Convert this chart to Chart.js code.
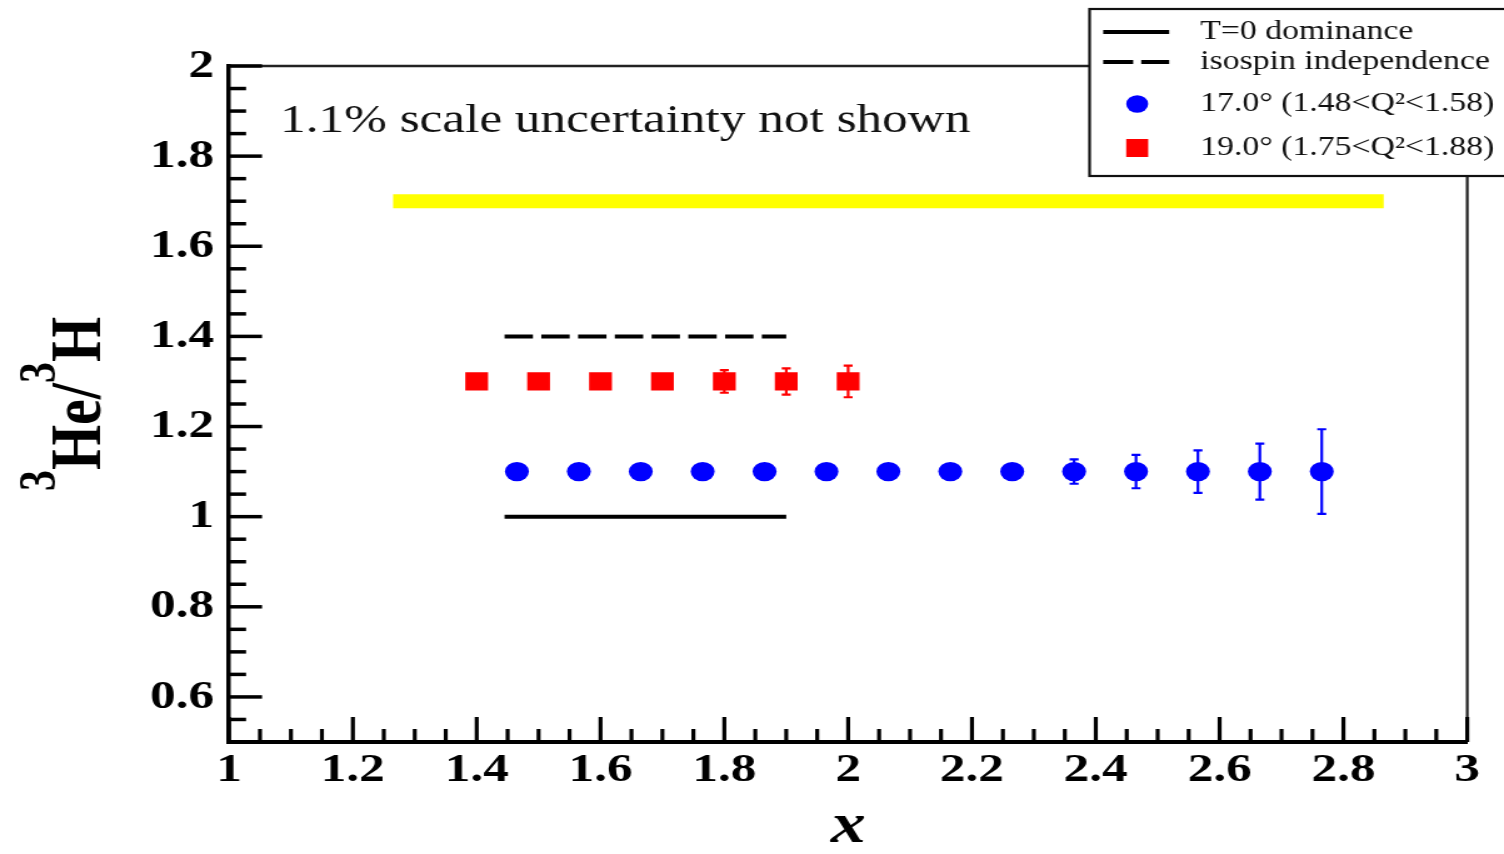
<!DOCTYPE html>
<html><head><meta charset="utf-8">
<script src="https://cdn.jsdelivr.net/npm/chart.js@4.4.1/dist/chart.umd.min.js"></script>
<style>
html,body{margin:0;padding:0;background:#fff;overflow:hidden;}
#wrap{width:1203px;height:854px;transform:scaleX(1.2502);transform-origin:0 0;}
canvas{display:block;}
</style></head><body>
<div id="wrap"><canvas id="c" width="1203" height="854"></canvas></div>
<script>
// ---- data ----
const blueX   = [1.465, 1.565, 1.665, 1.765, 1.865, 1.965, 2.065, 2.165, 2.265, 2.365, 2.465, 2.565, 2.665, 2.765];
const blueY   = [1.1, 1.1, 1.1, 1.1, 1.1, 1.1, 1.1, 1.1, 1.1, 1.1, 1.1, 1.1, 1.1, 1.1];
const blueErr = [0.004, 0.004, 0.004, 0.005, 0.005, 0.006, 0.007, 0.009, 0.014, 0.027, 0.037, 0.047, 0.062, 0.094];
const redX    = [1.4, 1.5, 1.6, 1.7, 1.8, 1.9, 2.0];
const redY    = [1.3, 1.3, 1.3, 1.3, 1.3, 1.3, 1.3];
const redErr  = [0.006, 0.008, 0.010, 0.014, 0.025, 0.029, 0.035];
const t0X     = [1.445, 1.9];
const t0Y     = [1.0, 1.0];
const isoX    = [1.445, 1.9];
const isoY    = [1.4, 1.4];
const bandX   = [1.265, 2.865];
const bandY   = [1.7, 1.7];
const xRange  = [1, 3];
const yRange  = [0.5, 2];
const majorStep = 0.2;
const minorStep = 0.05;
const labels = {
  t0: 'T=0 dominance',
  iso: 'isospin independence',
  blue: '17.0\u00B0 (1.48<Q\u00B2<1.58)',
  red: '19.0\u00B0 (1.75<Q\u00B2<1.88)',
  note: '1.1% scale uncertainty not shown',
  xTitle: 'x'
};
const yTitleParts = [['3', true], ['He/', false], ['3', true], ['H', false]];

const SERIF = "'Liberation Serif','Times New Roman',serif";
function pts(xs, ys){ return xs.map((x,i)=>({x:x, y:ys[i]})); }
function fmtTick(v){ return String(Number(Number(v).toFixed(2))); }

const errorBars = {
  id:'errorBars',
  afterDatasetsDraw(chart){
    const ctx = chart.ctx, xs = chart.scales.x, ys = chart.scales.y;
    chart.data.datasets.forEach(ds=>{
      if(!ds.errors) return;
      ctx.save(); ctx.strokeStyle = ds.backgroundColor; ctx.lineWidth = 2.2;
      ds.data.forEach((p,i)=>{
        const e = ds.errors[i]; const px = xs.getPixelForValue(p.x);
        const y1 = ys.getPixelForValue(p.y+e), y2 = ys.getPixelForValue(p.y-e);
        ctx.beginPath();
        ctx.moveTo(px,y1); ctx.lineTo(px,y2);
        ctx.moveTo(px-3.6,y1); ctx.lineTo(px+3.6,y1);
        ctx.moveTo(px-3.6,y2); ctx.lineTo(px+3.6,y2);
        ctx.stroke();
      });
      ctx.restore();
    });
  }
};

const decor = {
  id:'decor',
  afterDraw(chart){
    const ctx = chart.ctx, a = chart.chartArea, xs = chart.scales.x, ys = chart.scales.y;
    ctx.save();
    // frame (top & right)
    ctx.strokeStyle = '#222'; ctx.lineWidth = 2.6;
    ctx.beginPath(); ctx.moveTo(a.left, a.top); ctx.lineTo(a.right, a.top); ctx.stroke();
    ctx.lineWidth = 2.2;
    ctx.beginPath(); ctx.moveTo(a.right, a.top); ctx.lineTo(a.right, a.bottom); ctx.stroke();
    // inward ticks
    ctx.strokeStyle = '#000';
    ctx.lineWidth = 3.2;
    const nx = Math.round((xRange[1]-xRange[0])/minorStep);
    for(let k=0;k<=nx;k++){
      const v = xRange[0] + k*minorStep;
      const r = v/majorStep; const major = Math.abs(r-Math.round(r))<1e-6;
      const px = xs.getPixelForValue(v);
      ctx.beginPath(); ctx.moveTo(px, a.bottom); ctx.lineTo(px, a.bottom-(major?25:13)); ctx.stroke();
    }
    ctx.lineWidth = 3.5;
    const ny = Math.round((yRange[1]-yRange[0])/minorStep);
    for(let k=0;k<=ny;k++){
      const v = yRange[0] + k*minorStep;
      const r = v/majorStep; const major = Math.abs(r-Math.round(r))<1e-6;
      const py = ys.getPixelForValue(v);
      ctx.beginPath(); ctx.moveTo(a.left, py); ctx.lineTo(a.left+(major?26.4:13.6), py); ctx.stroke();
    }
    // note text
    ctx.fillStyle = '#111'; ctx.font = '41px ' + SERIF; ctx.textBaseline = 'alphabetic'; ctx.textAlign = 'left';
    ctx.fillText(labels.note, 224, 132);
    // y title with superscripts
    const mainF = 'bold 58px ' + SERIF, supF = 'bold 42px ' + SERIF;
    let L = 0;
    yTitleParts.forEach(([t,sup])=>{ ctx.font = sup?supF:mainF; L += ctx.measureText(t).width; });
    const cy = (a.top + a.bottom)/2;
    ctx.translate(80, cy + L/2); ctx.rotate(-Math.PI/2);
    ctx.fillStyle = '#000';
    let tx = 0;
    yTitleParts.forEach(([t,sup])=>{
      ctx.font = sup?supF:mainF;
      ctx.fillText(t, tx, sup?-36:0);
      tx += ctx.measureText(t).width;
    });
    ctx.setTransform(1,0,0,1,0,0);
    // legend
    ctx.fillStyle = '#fff'; ctx.strokeStyle = '#111'; ctx.lineWidth = 2.2;
    ctx.fillRect(871.5, 9, 340, 167); ctx.strokeRect(871.5, 9, 340, 167);
    const rows = [32, 62, 104, 148];
    const ds = chart.data.datasets;
    const entries = [ds[2], ds[3], ds[0], ds[1]];
    entries.forEach((d,i)=>{
      const y = rows[i];
      ctx.save();
      if(d.type === 'line'){
        ctx.strokeStyle = d.borderColor; ctx.lineWidth = 4;
        ctx.setLineDash(d.borderDash && d.borderDash.length ? [24,6.4] : []);
        ctx.beginPath(); ctx.moveTo(882.4, y); ctx.lineTo(935.2, y); ctx.stroke();
      } else if(d.pointStyle === 'circle'){
        ctx.fillStyle = d.backgroundColor;
        ctx.beginPath(); ctx.arc(909.6, y, 8.8, 0, Math.PI*2); ctx.fill();
      } else {
        ctx.fillStyle = d.backgroundColor;
        ctx.fillRect(909.6-8.8, y-9, 17.6, 18);
      }
      ctx.restore();
      ctx.fillStyle = '#111'; ctx.font = '27px ' + SERIF; ctx.textBaseline = 'middle';
      ctx.fillText(d.label, 960, y);
    });
    ctx.restore();
  }
};

const tickFont = {family:SERIF, size:41, weight:'bold'};

new Chart(document.getElementById('c'), {
  type:'scatter',
  data:{datasets:[
    {type:'scatter', label:labels.blue, data:pts(blueX,blueY), errors:blueErr, backgroundColor:'#0000ff', borderWidth:0, pointStyle:'circle', pointRadius:9.6, order:0},
    {type:'scatter', label:labels.red, data:pts(redX,redY), errors:redErr, backgroundColor:'#ff0000', borderWidth:0, pointStyle:'rect', pointRadius:12.9, order:1},
    {type:'line', label:labels.t0, data:pts(t0X,t0Y), borderColor:'#000', borderWidth:4, pointRadius:0, borderCapStyle:'butt', fill:false, order:2},
    {type:'line', label:labels.iso, data:pts(isoX,isoY), borderColor:'#000', borderWidth:4, borderDash:[22.7,6.7], pointRadius:0, borderCapStyle:'butt', fill:false, order:3},
    {type:'line', label:'', data:pts(bandX,bandY), borderColor:'#ffff00', borderWidth:14, pointRadius:0, borderCapStyle:'butt', fill:false, order:4}
  ]},
  options:{
    responsive:false, animation:false, devicePixelRatio:1, events:[],
    layout:{padding:{top:66, right:29.4, left:0, bottom:0}},
    plugins:{legend:{display:false}, tooltip:{enabled:false}},
    scales:{
      x:{type:'linear', min:xRange[0], max:xRange[1],
         ticks:{stepSize:majorStep, font:tickFont, color:'#000', padding:4, maxRotation:0, autoSkip:false, callback:fmtTick},
         grid:{display:false, drawTicks:false},
         border:{display:true, color:'#000', width:4},
         title:{display:true, text:labels.xTitle, color:'#000', font:{family:SERIF, size:56, style:'italic', weight:'bold', lineHeight:0.9}, padding:{top:0,bottom:1}},
         afterFit(s){ s.height = 112; }
      },
      y:{type:'linear', min:yRange[0], max:yRange[1],
         ticks:{stepSize:majorStep, includeBounds:false, font:tickFont, color:'#000', padding:12, callback:fmtTick},
         grid:{display:false, drawTicks:false},
         border:{display:true, color:'#000', width:3.5},
         afterFit(s){ s.width = 183.2; }
      }
    }
  },
  plugins:[errorBars, decor]
});
</script>
</body></html>
